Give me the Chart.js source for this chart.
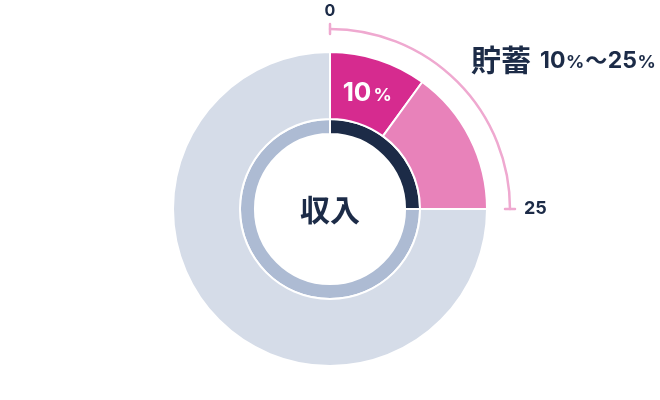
<!DOCTYPE html>
<html><head><meta charset="utf-8">
<script src="https://cdn.jsdelivr.net/npm/chart.js@4"></script>
<style>html,body{margin:0;padding:0;background:#fff}#wrap{width:660px;height:400px}</style>
</head><body><div id="wrap"><canvas id="c"></canvas></div>
<script>
const incomeLabels = ['貯蓄', '貯蓄（上限まで）', 'その他'];
const outerValues = [10, 15, 75];
const innerLabels = ['貯蓄範囲', 'その他'];
const innerValues = [25, 75];
const rangeLabels = ['0', '25'];
const centerLabel = '収入';
const titleLabel = '貯蓄';
const rangeText = ['10', '%', '〜', '25', '%'];
const segmentText = ['10', '%'];

const NAVY = '#1c2b47';
const CJK = '"Noto Sans CJK JP", sans-serif';
const LAT = 'Inter, "Noto Sans", sans-serif';

const overlay = {
  id: 'overlay',
  afterDraw(chart) {
    const ctx = chart.ctx;
    const arc0 = chart.getDatasetMeta(0).data[0];
    const cx = arc0.x, cy = arc0.y;
    const total = outerValues.reduce((a, b) => a + b, 0);
    const endVal = innerValues[0];
    const R = 180;
    const a0 = -Math.PI / 2;
    const a1 = -Math.PI / 2 + (endVal / total) * Math.PI * 2;
    ctx.save();
    ctx.strokeStyle = '#efa9d0';
    ctx.lineWidth = 2.5;
    ctx.lineCap = 'round';
    ctx.beginPath();
    ctx.arc(cx, cy, R, a0, a1);
    ctx.stroke();
    [a0, a1].forEach(a => {
      ctx.beginPath();
      ctx.moveTo(cx + Math.cos(a) * (R - 5), cy + Math.sin(a) * (R - 5));
      ctx.lineTo(cx + Math.cos(a) * (R + 5), cy + Math.sin(a) * (R + 5));
      ctx.stroke();
    });
    // range labels
    ctx.fillStyle = NAVY;
    ctx.font = 'bold 16px ' + LAT;
    ctx.textAlign = 'center';
    ctx.textBaseline = 'alphabetic';
    ctx.fillText(rangeLabels[0], cx + Math.cos(a0) * R, cy + Math.sin(a0) * R - 13);
    ctx.textAlign = 'left';
    ctx.font = 'bold 18px ' + LAT;
    ctx.fillText(rangeLabels[1], cx + Math.cos(a1) * R + 14, cy + Math.sin(a1) * R + 5);

    // title
    ctx.font = 'bold 30px ' + CJK;
    let x = cx + 141, by = cy - 138;
    ctx.fillText(titleLabel, x, by);
    x += ctx.measureText(titleLabel).width + 9;
    const fonts = ['bold 23px ' + LAT, 'bold 18px ' + LAT, 'bold 22px ' + CJK, 'bold 23px ' + LAT, 'bold 18px ' + LAT];
    rangeText.forEach((t, i) => {
      ctx.font = fonts[i];
      ctx.fillText(t, x, by - 3);
      x += ctx.measureText(t).width + (t === '%' ? 1 : 0.5);
    });

    // segment label
    const seg = chart.getDatasetMeta(0).data[0];
    const p = seg.tooltipPosition();
    ctx.fillStyle = '#ffffff';
    ctx.font = 'bold 26px ' + LAT;
    const w1 = ctx.measureText(segmentText[0]).width;
    ctx.font = 'bold 18px ' + LAT;
    const w2 = ctx.measureText(segmentText[1]).width;
    let sx = p.x - (w1 + w2 + 2) / 2 - 1;
    ctx.font = 'bold 26px ' + LAT;
    ctx.fillText(segmentText[0], sx, p.y + 9);
    ctx.font = 'bold 18px ' + LAT;
    ctx.fillText(segmentText[1], sx + w1 + 2, p.y + 9);

    // center
    ctx.fillStyle = NAVY;
    ctx.font = 'bold 30px ' + CJK;
    ctx.textAlign = 'center';
    ctx.textBaseline = 'middle';
    ctx.fillText(centerLabel, cx, cy + 1);
    ctx.restore();
  }
};

new Chart(document.getElementById('c'), {
  type: 'doughnut',
  data: {
    labels: incomeLabels,
    datasets: [
      {
        data: outerValues,
        backgroundColor: ['#d62b8f', '#e882ba', '#d5dce8'],
        borderColor: '#ffffff',
        borderWidth: 2,
        weight: 67
      },
      {
        data: innerValues,
        backgroundColor: ['#1c2b47', '#adbbd3'],
        borderColor: '#ffffff',
        borderWidth: 2,
        weight: 15
      }
    ]
  },
  options: {
    responsive: true,
    maintainAspectRatio: false,
    animation: false,
    radius: 157,
    cutout: '47.8%',
    layout: { padding: { top: 18, bottom: 0, left: 0, right: 0 } },
    plugins: { legend: { display: false }, tooltip: { enabled: false } }
  },
  plugins: [overlay]
});
</script></body></html>
